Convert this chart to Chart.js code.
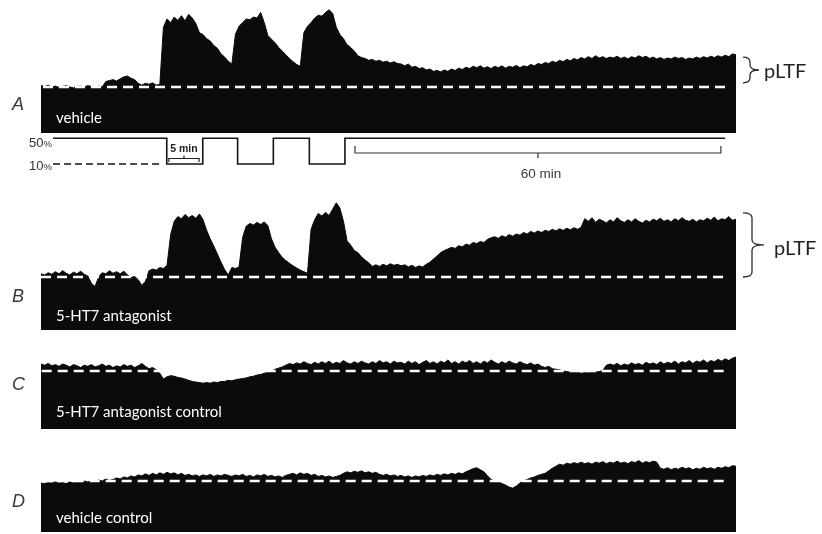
<!DOCTYPE html>
<html>
<head>
<meta charset="utf-8">
<script src="https://cdn.jsdelivr.net/npm/chart.js@4.4.1/dist/chart.umd.min.js"></script>
<style>
  html, body { margin: 0; padding: 0; background: #ffffff; }
  #wrap { position: relative; width: 822px; height: 534px; }
  canvas { display: block; }
</style>
</head>
<body>
<div id="wrap"><canvas id="trace" width="822" height="534"></canvas></div>
<script>
// Integrated phrenic nerve activity, % of pre-hypoxia baseline, one sample every 0.5 min
const SAMPLE_MINUTES = 0.5;
const BASELINE_PCT = 100;

const vehicleTrace = [
  103,101,104,100,102,99,101,103,100,98,
  101,102,100,103,101,99,102,100,112,114,
  116,113,118,122,124,119,116,108,104,108,
  106,109,104,106,230,248,240,252,245,255,
  244,258,250,238,218,214,205,200,190,184,
  172,165,156,150,215,232,240,248,246,252,
  250,262,240,212,204,196,186,178,170,162,
  155,149,145,218,232,240,250,256,254,262,
  268,260,230,214,205,192,186,178,168,164,
  162,158,160,156,158,154,156,152,155,151,
  150,146,150,143,145,140,142,137,139,134,
  136,133,137,134,139,136,141,138,143,140,
  145,142,146,141,144,140,145,142,146,141,
  145,143,147,142,146,144,149,146,151,149,
  153,151,156,153,158,155,160,157,162,159,
  164,161,166,162,168,163,166,162,165,163,
  167,162,165,161,166,163,168,164,167,162,
  165,161,164,160,163,161,165,162,164,160,
  163,161,165,162,166,163,167,164,168,165,
  169,166,172,170
];

const antagonistTrace = [
  106,104,108,105,110,106,112,107,104,109,
  106,111,105,102,88,82,100,108,106,112,
  107,110,106,111,104,99,101,95,84,92,
  112,115,113,118,116,122,180,205,214,210,
  218,212,216,211,219,208,188,172,158,143,
  128,114,104,118,116,119,175,196,201,198,
  203,199,204,197,172,156,146,137,131,126,
  121,117,113,110,107,190,208,220,215,222,
  216,228,240,230,205,168,160,150,146,138,
  132,127,120,123,120,124,121,125,122,124,
  121,123,119,122,118,121,119,124,128,134,
  140,146,150,153,156,154,159,157,162,160,
  165,163,167,165,171,174,176,173,178,175,
  180,177,181,179,184,181,186,183,187,184,
  188,186,190,187,191,188,192,189,193,190,
  194,210,205,212,203,209,206,202,208,204,
  212,206,203,208,204,210,205,202,207,204,
  209,206,211,205,208,204,210,206,212,207,
  205,209,204,208,206,211,207,213,206,210,
  208,214,207,209
];

const antagonistControlTrace = [
  112,110,113,109,111,108,112,110,107,111,
  109,106,110,108,111,107,109,112,108,110,
  106,109,107,111,108,110,106,109,113,108,
  104,106,102,96,86,90,92,91,89,88,
  86,84,82,81,80,79,80,79,81,80,
  82,82,84,83,85,86,87,88,90,91,
  93,94,96,98,100,103,105,107,110,113,
  111,114,112,116,113,111,115,112,116,113,
  117,112,115,113,118,114,112,116,113,117,
  114,112,116,113,118,114,116,112,117,114,
  115,112,117,113,116,111,115,118,113,116,
  112,117,114,119,113,116,112,117,114,118,
  113,116,112,117,114,119,115,112,116,113,
  117,114,112,116,113,111,114,110,112,108,
  106,108,104,103,102,100,99,98,97,98,
  96,97,97,98,98,99,101,110,112,110,
  113,109,112,110,114,111,113,110,115,112,
  114,111,116,112,115,113,117,112,116,114,
  118,113,117,115,119,114,118,116,120,117,
  121,118,122,124
];

const vehicleControlTrace = [
  96,95,97,96,98,96,97,95,98,96,
  99,97,100,98,101,99,102,100,104,101,
  103,106,104,108,106,110,108,112,110,114,
  111,115,112,116,113,117,114,116,112,115,
  111,113,110,112,109,112,110,113,109,112,
  110,113,111,109,112,110,113,109,111,108,
  112,110,113,109,111,108,110,107,111,113,
  115,112,116,113,115,111,113,109,111,108,
  110,107,109,111,115,118,116,119,117,120,
  116,118,115,117,113,111,113,110,112,109,
  111,108,110,107,110,108,111,109,112,110,
  113,111,114,112,115,113,116,114,118,121,
  124,126,122,118,110,103,100,98,95,92,
  88,86,90,96,100,103,106,108,111,113,
  115,120,125,129,133,131,135,133,136,134,
  137,134,136,133,137,135,138,134,137,135,
  139,135,137,134,138,136,140,135,138,136,
  139,137,125,123,126,122,125,123,127,124,
  126,122,125,123,127,124,126,123,127,125,
  128,126,130,129
];

// Inspired O2 protocol: minute of each switch and the level held from there on
const o2SwitchMinutes = [1.67, 17.46, 22.46, 27.30, 32.26, 37.26, 42.20, 95.00];
const o2Levels        = [50, 10, 50, 10, 50, 10, 50, 50];
const o2TickLevels    = [50, 10];
const o2TickLabels    = ['50', '10'];
const o2ReferenceSpan = [1.67, 16.9];

// Baseline (dashed) spans, minutes
const baselineSpanA = [0.28, 95.0];
const baselineSpanB = [0.0, 95.0];
const baselineSpanC = [0.1, 95.4];
const baselineSpanD = [0.1, 95.0];

// pLTF braces, % baseline
const pltfRangeA = [109, 165];
const pltfRangeB = [100, 221];

// Time scale brackets, minutes
const bracket5Min  = [17.75, 21.95];
const bracket60Min = [43.6, 94.4];

const panelLetters = ['A', 'B', 'C', 'D'];
const panelNames   = ['vehicle', '5-HT7 antagonist', '5-HT7 antagonist control', 'vehicle control'];

// ---- layout ----
const W = 822, H = 534;
const PLOT_LEFT = 41, PLOT_RIGHT = 736;

// Map two values to two pixel rows on the full-height chart area
function bandScale(px0, v0, px1, v1) {
  const ppu = (px0 - px1) / (v1 - v0);
  return { type: 'linear', display: false, bounds: 'data',
           min: v0 - (H - px0) / ppu, max: v0 + px0 / ppu };
}

const toPoints = vals => vals.map((v, i) => ({ x: i * SAMPLE_MINUTES, y: v }));

function traceDataset(vals, axis) {
  return {
    data: toPoints(vals), yAxisID: axis, fill: 'origin',
    backgroundColor: '#0b0b0b', borderColor: '#0b0b0b', borderWidth: 1,
    pointRadius: 0, tension: 0, order: 2
  };
}
function baselineDataset(span, axis) {
  return {
    data: span.map(x => ({ x, y: BASELINE_PCT })), yAxisID: axis, fill: false,
    borderColor: '#ffffff', borderWidth: 2.6, borderDash: [10, 6],
    pointRadius: 0, order: 0
  };
}

function brace(ctx, x, yTop, yBot, w, tip) {
  const ym = (yTop + yBot) / 2, r = 5;
  ctx.beginPath();
  ctx.moveTo(x, yTop);
  ctx.quadraticCurveTo(x + w, yTop, x + w, yTop + r);
  ctx.lineTo(x + w, ym - r);
  ctx.quadraticCurveTo(x + w, ym, x + w + tip, ym);
  ctx.moveTo(x + w + tip, ym);
  ctx.quadraticCurveTo(x + w, ym, x + w, ym + r);
  ctx.lineTo(x + w, yBot - r);
  ctx.quadraticCurveTo(x + w, yBot, x, yBot);
  ctx.stroke();
}

const annotations = {
  id: 'annotations',
  afterDatasetsDraw(chart) {
    const ctx = chart.ctx, xs = chart.scales.x;
    const yA = chart.scales.yA, yB = chart.scales.yB, yO2 = chart.scales.yO2;
    ctx.save();

    // panel letters
    ctx.fillStyle = '#3a3a3a';
    ctx.font = 'italic 18px "Liberation Sans", Arial, sans-serif';
    ctx.textAlign = 'left';
    ctx.textBaseline = 'alphabetic';
    const letterBase = [110, 302, 390, 507];
    panelLetters.forEach((l, i) => ctx.fillText(l, 12, letterBase[i]));

    // condition names inside each trace
    ctx.fillStyle = '#ffffff';
    ctx.font = '15px Lato, "Open Sans", sans-serif';
    const nameBase = [123, 321, 417, 523];
    panelNames.forEach((n, i) => ctx.fillText(n, 56, nameBase[i]));

    // pLTF braces and labels
    ctx.strokeStyle = '#2a2a2a';
    ctx.lineWidth = 1.3;
    brace(ctx, 743, yA.getPixelForValue(pltfRangeA[1]), yA.getPixelForValue(pltfRangeA[0]), 7, 9);
    brace(ctx, 743, yB.getPixelForValue(pltfRangeB[1]), yB.getPixelForValue(pltfRangeB[0]), 9, 12);
    ctx.fillStyle = '#222222';
    ctx.font = '20px Lato, "Open Sans", sans-serif';
    ctx.fillText('pLTF', 764, 78);
    ctx.fillText('pLTF', 774, 255);

    // O2 level labels
    ctx.fillStyle = '#333333';
    o2TickLevels.forEach((lv, i) => {
      const y = yO2.getPixelForValue(lv) + (i === 0 ? 9 : 6);
      ctx.font = '13px "Liberation Sans", Arial, sans-serif';
      const wNum = ctx.measureText(o2TickLabels[i]).width;
      ctx.font = '9.5px "Liberation Sans", Arial, sans-serif';
      const wPct = ctx.measureText('%').width;
      const x0 = 52 - wNum - wPct;
      ctx.font = '13px "Liberation Sans", Arial, sans-serif';
      ctx.fillText(o2TickLabels[i], x0, y);
      ctx.font = '9.5px "Liberation Sans", Arial, sans-serif';
      ctx.fillText('%', x0 + wNum, y);
    });

    // 5 min bracket (opens downward, label above)
    ctx.strokeStyle = '#222222';
    ctx.lineWidth = 1.2;
    const b5a = xs.getPixelForValue(bracket5Min[0]), b5b = xs.getPixelForValue(bracket5Min[1]);
    ctx.beginPath();
    ctx.moveTo(b5a, 162); ctx.lineTo(b5a, 158.5); ctx.lineTo(b5b, 158.5); ctx.lineTo(b5b, 162);
    ctx.moveTo((b5a + b5b) / 2, 158.5); ctx.lineTo((b5a + b5b) / 2, 155.5);
    ctx.stroke();
    ctx.fillStyle = '#222222';
    ctx.font = 'bold 10.5px "Liberation Sans", Arial, sans-serif';
    ctx.textAlign = 'center';
    ctx.fillText('5 min', (b5a + b5b) / 2, 152);

    // 60 min bracket (label below)
    const b60a = xs.getPixelForValue(bracket60Min[0]), b60b = xs.getPixelForValue(bracket60Min[1]);
    const mid = (b60a + b60b) / 2;
    ctx.strokeStyle = '#333333';
    ctx.beginPath();
    ctx.moveTo(b60a, 146); ctx.lineTo(b60a, 153); ctx.lineTo(b60b, 153); ctx.lineTo(b60b, 146);
    ctx.moveTo(mid, 153); ctx.lineTo(mid, 158);
    ctx.stroke();
    ctx.fillStyle = '#3a3a3a';
    ctx.font = '13.5px "Liberation Sans", Arial, sans-serif';
    ctx.fillText('60 min', mid + 3, 178);

    ctx.restore();
  }
};

new Chart(document.getElementById('trace'), {
  type: 'line',
  data: {
    datasets: [
      traceDataset(vehicleTrace, 'yA'),
      baselineDataset(baselineSpanA, 'yA'),
      traceDataset(antagonistTrace, 'yB'),
      baselineDataset(baselineSpanB, 'yB'),
      traceDataset(antagonistControlTrace, 'yC'),
      baselineDataset(baselineSpanC, 'yC'),
      traceDataset(vehicleControlTrace, 'yD'),
      baselineDataset(baselineSpanD, 'yD'),
      {
        data: o2SwitchMinutes.map((x, i) => ({ x, y: o2Levels[i] })),
        yAxisID: 'yO2', stepped: 'before', fill: false,
        borderColor: '#151515', borderWidth: 1.6, pointRadius: 0, order: 1
      },
      {
        data: o2ReferenceSpan.map(x => ({ x, y: 10 })),
        yAxisID: 'yO2', fill: false, borderDash: [7, 4],
        borderColor: '#151515', borderWidth: 1.5, pointRadius: 0, order: 1
      }
    ]
  },
  options: {
    responsive: false,
    devicePixelRatio: 1,
    animation: false,
    layout: { padding: { left: PLOT_LEFT, right: W - PLOT_RIGHT, top: 0, bottom: 0 } },
    plugins: { legend: { display: false }, tooltip: { enabled: false } },
    scales: {
      x:   { type: 'linear', display: false, bounds: 'data', min: 0, max: 96.5 },
      yA:  bandScale(133, 0, 87, BASELINE_PCT),
      yO2: bandScale(164, 10, 138.3, 50),
      yB:  bandScale(330, 0, 277, BASELINE_PCT),
      yC:  bandScale(429, 0, 371, BASELINE_PCT),
      yD:  bandScale(532, 0, 481, BASELINE_PCT)
    }
  },
  plugins: [annotations]
});
</script>
</body>
</html>
